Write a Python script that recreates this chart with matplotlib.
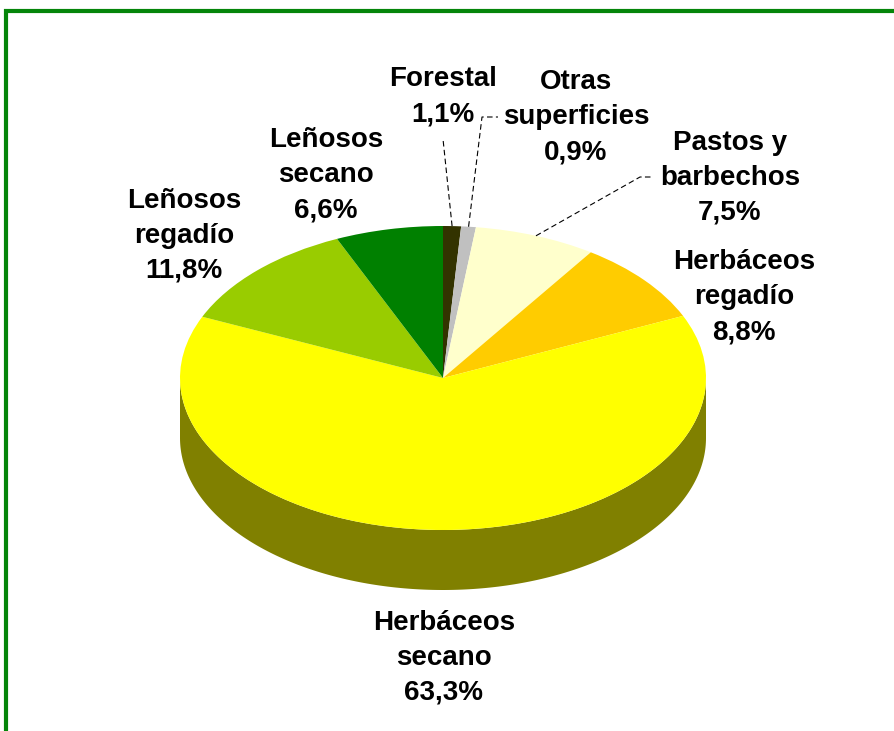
import numpy as np
import matplotlib
matplotlib.use("Agg")
from matplotlib import pyplot as plt
from matplotlib.patches import Polygon, Rectangle

# Distribución de la superficie (%)
categories = ['Forestal', 'Otras\nsuperficies', 'Pastos y\nbarbechos', 'Herbáceos\nregadío',
              'Herbáceos\nsecano', 'Leñosos\nregadío', 'Leñosos\nsecano']
values = [1.1, 0.9, 7.5, 8.8, 63.3, 11.8, 6.6]
value_labels = ['1,1%', '0,9%', '7,5%', '8,8%', '63,3%', '11,8%', '6,6%']
colors = ['#333300', '#C0C0C0', '#FFFFCC', '#FFCC00', '#FFFF00', '#99CC00', '#008000']

W, H = 895, 731
cx, cy, rx, ry = 443, 378, 263, 152   # pie centre and radii in pixels
depth = 60 / ry                       # wall height in pie units

# label centres in pixels and which labels get a leader line
label_pos = [(443, 97), (576, 117), (730, 178), (744, 297), (444, 658), (184, 236), (326, 175)]
leader_end = {0: [(443, 139)], 1: [(482, 117), (498, 117)], 2: [(640, 177), (653, 177)]}

def px(x, y):
    # pixel -> pie data coords
    return (x - cx) / rx, (cy - y) / ry

plt.rcParams['font.family'] = ['Liberation Sans', 'DejaVu Sans']
fig = plt.figure(figsize=(W / 100, H / 100), dpi=100)
ax = fig.add_axes([0, 0, 1, 1])

wedges, _ = ax.pie(values, colors=colors, startangle=90, counterclock=False,
                   radius=1, wedgeprops=dict(linewidth=0), normalize=True)
for w in wedges:
    w.set_zorder(3)

# side wall (front half only, angles measured clockwise from top)
bounds = np.concatenate([[0], np.cumsum(values)]) / sum(values) * 360
for i in range(len(values)):
    a, b = max(bounds[i], 90), min(bounds[i + 1], 270)
    if a >= b:
        continue
    t = np.radians(np.linspace(a, b, 200))
    top = np.column_stack([np.sin(t), np.cos(t)])
    bot = top[::-1] - [0, depth]
    rgb = np.array(matplotlib.colors.to_rgb(colors[i])) * 0.5
    ax.add_patch(Polygon(np.vstack([top, bot]), closed=True, facecolor=rgb,
                         edgecolor='none', zorder=2))

# labels
for i, (x, y) in enumerate(label_pos):
    tx, ty = px(x, y)
    ax.text(tx, ty, categories[i] + '\n' + value_labels[i], ha='center', va='center',
            fontsize=20, fontweight='bold', linespacing=1.45, zorder=5)

# leader lines
for i, pts in leader_end.items():
    mid = np.radians((bounds[i] + bounds[i + 1]) / 2)
    xs = [np.sin(mid)] + [px(*p)[0] for p in pts]
    ys = [np.cos(mid)] + [px(*p)[1] for p in pts]
    ax.plot(xs, ys, color='black', lw=0.8, ls=(0, (5, 3)), zorder=4)

ax.set_aspect('auto')
ax.set_xlim(px(0, 0)[0], px(W, 0)[0])
ax.set_ylim(px(0, H)[1], px(0, 0)[1])
ax.axis('off')

# green frame (only top and left edges visible)
x0, y0 = px(6, 11)
ax.add_patch(Rectangle((x0, px(0, H + 20)[1]), px(W + 20, 0)[0] - x0, y0 - px(0, H + 20)[1],
                       fill=False, edgecolor='#05850A', lw=3, zorder=6, clip_on=False))

fig.savefig('out.png', dpi=100)
